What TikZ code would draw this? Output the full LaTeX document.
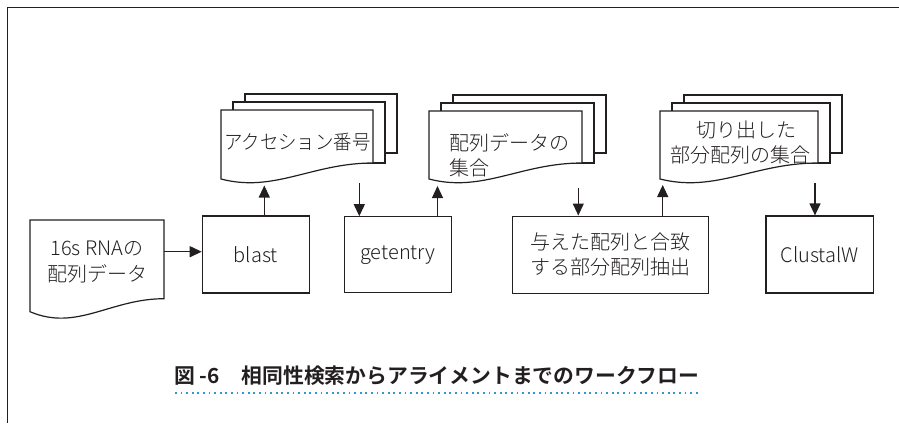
\documentclass[tikz,border=0pt]{standalone}
\usepackage{fontspec}
\setmainfont{Noto Sans CJK JP}[UprightFont={* Light}, BoldFont={* Bold}]
\usetikzlibrary{arrows.meta}
\definecolor{ink}{HTML}{231F20}
\definecolor{dotblue}{HTML}{2F9AC8}
\tikzset{
  shapeline/.style={draw=ink, line width=1.2pt, fill=white, line join=miter},
  procbox/.style={shapeline, inner sep=0pt},
  lbl/.style={text=ink, font=\fontsize{20}{25.5}\selectfont, inner sep=0pt},
  arr/.style={draw=ink, line width=1.2pt, -{Triangle[width=11pt,length=12pt]}},
}
\newcommand\mydocs[4]{% L, T, R, B : stacked documents
  \path[shapeline] (#1+24,#2-16) rectangle (#3+24,#4-26);
  \path[shapeline] (#1+12,#2-8) rectangle (#3+12,#4-16);
  \path[shapeline] (#1,#4) -- (#1,#2) -- (#3,#2) -- (#3,#4-16)
     .. controls ({#1+0.6*(#3-#1)},{#4-16}) and ({#1+0.35*(#3-#1)},{#4+14}) .. (#1,#4) -- cycle;
}
\newcommand\mysdoc[4]{% L, T, R, B : single document
  \path[shapeline] (#1,#4) -- (#1,#2) -- (#3,#2) -- (#3,#4-13)
     .. controls ({#1+0.6*(#3-#1)},{#4-13}) and ({#1+0.35*(#3-#1)},{#4+20}) .. (#1,#4) -- cycle;
}
\begin{document}
\begin{tikzpicture}[x=1pt,y=-1pt]
\useasboundingbox (0,0) rectangle (899,423);
% frame
\draw[draw=ink, line width=1.2pt] (899,7.5) -- (7.5,7.5) -- (7.5,423);

% documents
\mysdoc{30}{220}{164}{311.7}
\node[lbl, align=center] (seq16s) at (97,262) {16s RNAの\\配列データ};

\mydocs{221}{110}{373}{179}
\node[lbl] (acc) at (297.3,141.7) {\scalebox{0.92}[1]{アクセション番号}};

\mydocs{429}{111}{582}{179}
\node[lbl, align=left, anchor=west] (seqset) at (449,155.5) {配列データの\\集合};

\mydocs{660}{111}{818}{179}
\node[lbl, align=center] (subset) at (740,142.5) {\hspace*{12pt}切り出した\\部分配列の集合};

% process boxes
\node[procbox, lbl, minimum width=107pt, minimum height=77pt] (blast) at (255.8,254.4) {blast};
\node[procbox, lbl, minimum width=107pt, minimum height=76pt] (getentry) at (398,254.8) {getentry};
\node[procbox, lbl, minimum width=195.6pt, minimum height=77pt, align=center] (extract) at (610.5,254.6) {与えた配列と合致\\する部分配列抽出};
\node[procbox, lbl, minimum width=107.3pt, minimum height=77pt] (clustal) at (819.7,254.5) {ClustalW};

% connector end points at the documents
\coordinate (s16e) at (164,251.7);
\coordinate (accin) at (264.3,185.5);
\coordinate (accout) at (359.3,183);
\coordinate (setin) at (437.5,186);
\coordinate (setout) at (578.3,187.5);
\coordinate (subin) at (662.7,185);
\coordinate (subout) at (815,183);

\draw[arr] (s16e) -- (s16e -| blast.west);
\draw[arr] (accin |- blast.north) -- (accin);
\draw[arr] (accout) -- (accout |- getentry.north);
\draw[arr] (setin |- getentry.north) -- (setin);
\draw[arr] (setout) -- (setout |- extract.north);
\draw[arr] (subin |- extract.north) -- (subin);
\draw[arr] (subout) -- (subout |- clustal.north);

% caption
\node[text=ink, inner sep=0pt, anchor=west, font=\fontsize{20.8}{23}\selectfont\bfseries] (caption) at (174,376)
  {図 -6\hspace{22pt}相同性検索からアライメントまでのワークフロー};
\coordinate (ulstart) at (175,393.3);
\draw[dotblue, line width=1.8pt, dash pattern=on 1.8pt off 3.8pt] (ulstart) -- (ulstart -| caption.east);
\end{tikzpicture}
\end{document}
